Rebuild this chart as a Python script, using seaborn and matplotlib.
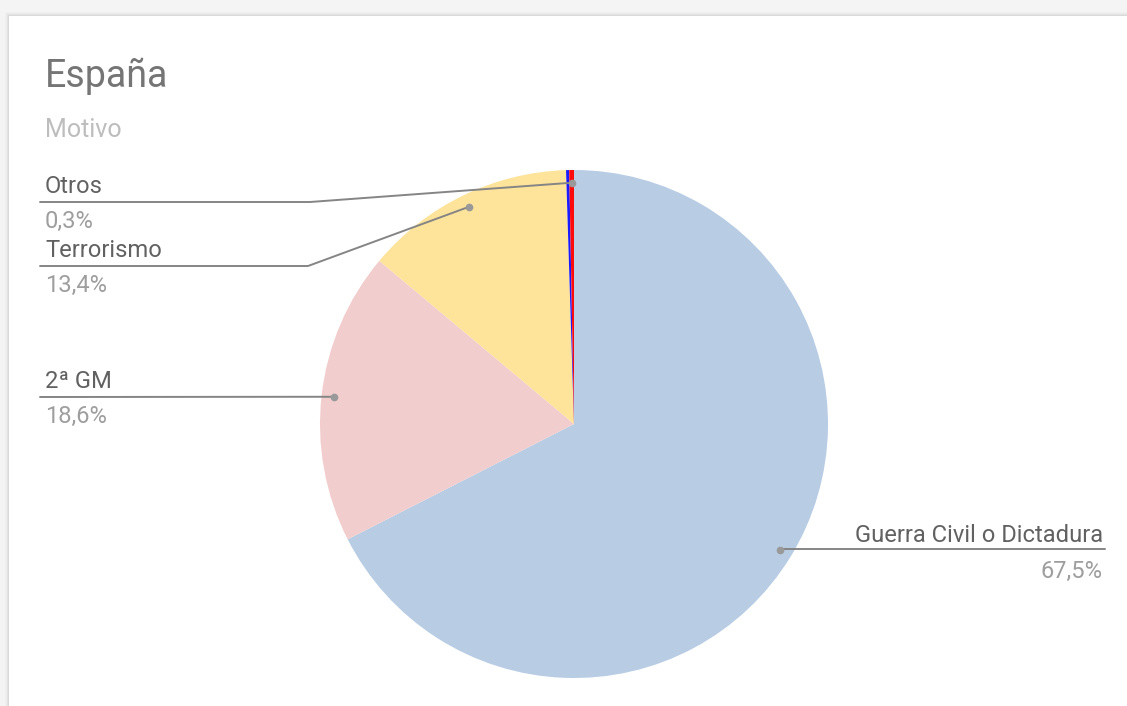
import matplotlib
matplotlib.use("Agg")
import numpy as np
import matplotlib.pyplot as plt
import seaborn as sns
from matplotlib.patches import Rectangle

# data (slice order as drawn, clockwise from 12 o'clock)
categorias = ["Guerra Civil o Dictadura", "2ª GM", "Terrorismo", "", "Otros"]
porcentajes = [67.5, 18.6, 13.4, 0.2, 0.3]
etiquetas_pct = ["67,5%", "18,6%", "13,4%", "", "0,3%"]
colores = ["#b8cce4", "#f2cdcd", "#fee39b", "#1a1aff", "#ff0a0a"]

titulo = "España"
subtitulo = "Motivo"

sns.set_theme(style="white")
plt.rcParams["font.family"] = ["Roboto", "DejaVu Sans"]

W, H = 1127, 706
fig = plt.figure(figsize=(W / 100, H / 100), dpi=100, facecolor="#f4f4f4")
ax = fig.add_axes([0, 0, 1, 1])

# card with a soft shadow
for i, a in enumerate([0.015, 0.02, 0.03, 0.04]):
    ax.add_patch(Rectangle((9 - 4 + i, 16 - 4 + i), W, H, facecolor="black",
                           alpha=a, linewidth=0, zorder=0))
ax.add_patch(Rectangle((9, 16), W, H, facecolor="white", linewidth=0, zorder=0.5))

# pie in pixel coords (y grows downward -> counterclock=True looks clockwise)
cx, cy, R = 574, 424, 254
wedges, _ = ax.pie(porcentajes, colors=colores, startangle=-90, counterclock=True,
                   center=(cx, cy), radius=R, wedgeprops=dict(linewidth=0))
for w in wedges:
    w.set_zorder(1)

ax.set_xlim(0, W)
ax.set_ylim(H, 0)
ax.set_aspect("equal")
ax.axis("off")

ax.text(45, 87, titulo, fontsize=27, color="#757575", zorder=3)
ax.text(45, 137, subtitulo, fontsize=18, color="#bdbdbd", zorder=3)

# label layout: side, underline y, elbow x
layout = {
    "Guerra Civil o Dictadura": ("right", 549, None),
    "2ª GM": ("left", 397, None),
    "Terrorismo": ("left", 266, 308),
    "Otros": ("left", 202, 310),
}

fs = 17.1
line_c = "#858585"
for w, nombre, pct in zip(wedges, categorias, etiquetas_pct):
    if nombre not in layout:
        continue
    lado, yl, elbow = layout[nombre]
    mid = np.deg2rad((w.theta1 + w.theta2) / 2)
    px = cx + 0.95 * R * np.cos(mid)
    py = cy + 0.95 * R * np.sin(mid)
    if lado == "left":
        xs = [40] + ([elbow] if elbow else []) + [px]
        ys = [yl] + ([yl] if elbow else []) + [py]
        ax.plot(xs, ys, color=line_c, lw=1.4, zorder=2)
        ax.text(45, yl - 9, nombre, fontsize=fs, color="#616161", zorder=3)
        ax.text(45, yl + 26, pct, fontsize=fs, color="#9e9e9e", zorder=3)
    else:
        ax.plot([px, 1105], [yl, yl], color=line_c, lw=1.4, zorder=2)
        ax.text(1103, yl - 7, nombre, fontsize=fs, color="#616161", ha="right", zorder=3)
        ax.text(1103, yl + 29, pct, fontsize=fs, color="#9e9e9e", ha="right", zorder=3)
    ax.plot([px], [py], "o", ms=4.5, color="#999999", zorder=2.5)

fig.savefig("out.png", dpi=100, facecolor=fig.get_facecolor())
